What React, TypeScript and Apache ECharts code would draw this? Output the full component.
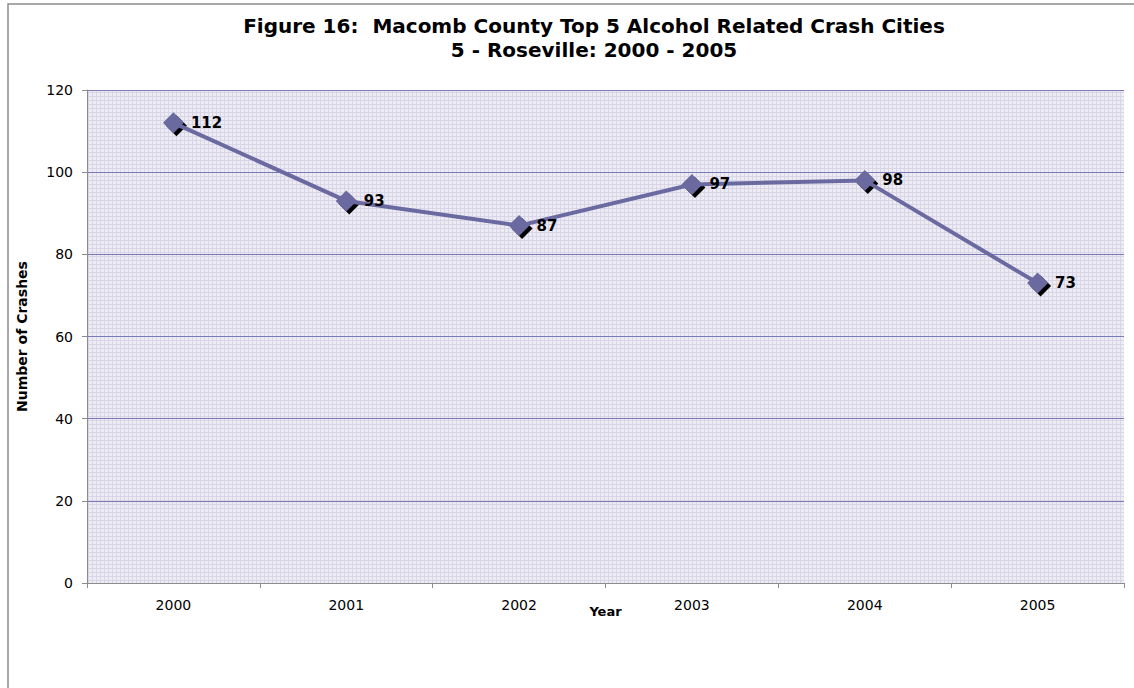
import React, { useEffect, useRef } from "react";
import * as echarts from "echarts";

const titleLine1 = "Figure 16:  Macomb County Top 5 Alcohol Related Crash Cities";
const titleLine2 = "5 - Roseville: 2000 - 2005";
const years = ["2000", "2001", "2002", "2003", "2004", "2005"];
const crashes = [112, 93, 87, 97, 98, 73];
const yAxisName = "Number of Crashes";
const xAxisName = "Year";

const FONT = "DejaVu Sans";

function makePattern(): HTMLCanvasElement {
  const c = document.createElement("canvas");
  c.width = 4;
  c.height = 4;
  const ctx = c.getContext("2d")!;
  ctx.fillStyle = "#edebf4";
  ctx.fillRect(0, 0, 4, 4);
  ctx.fillStyle = "#d9d5e7";
  ctx.fillRect(0, 0, 4, 1);
  ctx.fillRect(0, 0, 1, 4);
  return c;
}

export default function App() {
  const ref = useRef<HTMLDivElement>(null);
  useEffect(() => {
    if (!ref.current) return;
    const chart = echarts.init(ref.current, null, { renderer: "svg" });
    const pattern = makePattern();
    chart.setOption({
      animation: false,
      backgroundColor: "#ffffff",
      graphic: [
        {
          type: "rect",
          shape: { x: 8, y: 4, width: 1200, height: 800 },
          style: { fill: "none", stroke: "#8c8c8c", lineWidth: 1.5 },
          z: 100,
        },
      ],
      title: {
        text: titleLine1 + "\n" + titleLine2,
        left: 589,
        top: 9,
        textAlign: "center",
        textStyle: {
          fontFamily: FONT,
          fontWeight: "bold",
          fontSize: 20,
          lineHeight: 24,
          color: "#000000",
        },
      },
      grid: {
        left: 87,
        right: 10,
        top: 90,
        bottom: 105,
        show: true,
        backgroundColor: { image: pattern, repeat: "repeat" },
        borderWidth: 0,
      },
      xAxis: {
        type: "category",
        data: years,
        boundaryGap: true,
        name: xAxisName,
        nameLocation: "middle",
        nameGap: 22,
        nameMoveOverlap: false,
        nameTextStyle: {
          fontFamily: FONT,
          fontWeight: "bold",
          fontSize: 13,
          color: "#000",
        },
        axisLine: { lineStyle: { color: "#8c8c8c", width: 1 } },
        axisTick: { show: true, length: 5, lineStyle: { color: "#8c8c8c" } },
        axisLabel: {
          fontFamily: FONT,
          fontSize: 14,
          color: "#000",
          margin: 15,
        },
      },
      yAxis: {
        type: "value",
        min: 0,
        max: 120,
        interval: 20,
        name: yAxisName,
        nameLocation: "middle",
        nameGap: 58,
        nameMoveOverlap: false,
        nameTextStyle: {
          fontFamily: FONT,
          fontWeight: "bold",
          fontSize: 14,
          color: "#000",
        },
        axisLine: { show: true, lineStyle: { color: "#8c8c8c", width: 1 } },
        axisTick: { show: true, length: 5, lineStyle: { color: "#8c8c8c" } },
        axisLabel: {
          fontFamily: FONT,
          fontSize: 14,
          color: "#000",
          margin: 14,
        },
        splitLine: { show: true, lineStyle: { color: "#7a7ab8", width: 1 } },
      },
      series: [
        {
          type: "line",
          data: crashes,
          symbol: "diamond",
          symbolSize: 21,
          symbolOffset: [3, 3],
          itemStyle: { color: "#000000" },
          lineStyle: { width: 0, opacity: 0 },
          z: 1,
          silent: true,
        },
        {
          type: "line",
          data: crashes,
          symbol: "diamond",
          symbolSize: 21,
          itemStyle: { color: "#6a6aa0" },
          lineStyle: { color: "#6a6aa0", width: 4 },
          z: 2,
          label: {
            show: true,
            position: "right",
            distance: 7,
            fontFamily: FONT,
            fontWeight: "bold",
            fontSize: 15,
            color: "#000",
          },
        },
      ],
    });
    return () => chart.dispose();
  }, []);
  return (
    <div
      ref={ref}
      style={{ position: "absolute", left: 0, top: 0, width: 1134, height: 688 }}
    />
  );
}
